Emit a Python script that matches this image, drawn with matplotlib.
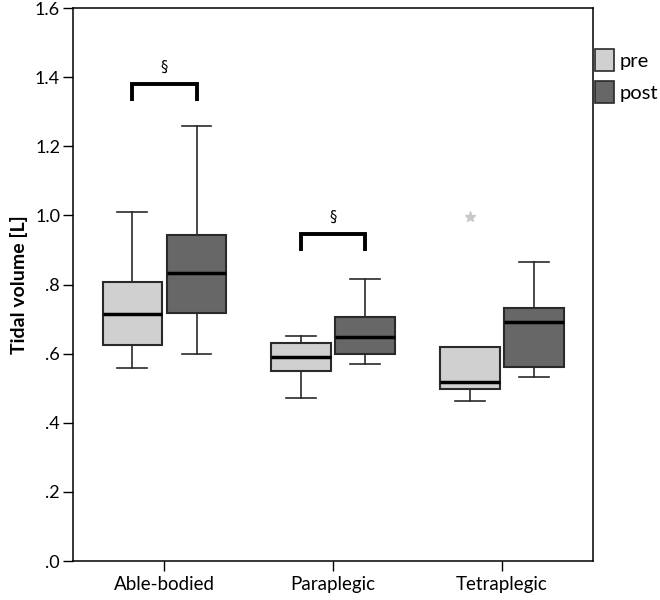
import matplotlib
matplotlib.use("Agg")
from matplotlib import pyplot as plt
from matplotlib.patches import Patch

plt.rcParams['font.family'] = ['Lato', 'DejaVu Sans']

groups = ['Able-bodied', 'Paraplegic', 'Tetraplegic']
series = ['pre', 'post']

# (whislo, q1, median, q3, whishi) per group
pre_stats = [
    (0.558, 0.624, 0.714, 0.806, 1.010),
    (0.472, 0.550, 0.589, 0.630, 0.650),
    (0.463, 0.499, 0.518, 0.619, 0.619),
]
post_stats = [
    (0.599, 0.719, 0.832, 0.944, 1.260),
    (0.570, 0.599, 0.647, 0.705, 0.817),
    (0.532, 0.560, 0.691, 0.731, 0.866),
]
pre_outliers = [[], [], [0.996]]
post_outliers = [[], [], []]

# significance brackets: group index, bracket top, leg bottom
sig_groups = [0, 1]
sig_top = [1.381, 0.947]
sig_leg = [1.332, 0.898]

colors = {'pre': '#d0d0d0', 'post': '#676767'}
offset = 0.19
width = 0.355

fig = plt.figure(figsize=(6.6, 6.0), dpi=100)
ax = fig.add_axes([0.110, 0.065, 0.788, 0.9215])


def make_stats(stats, outliers):
    out = []
    for s, o in zip(stats, outliers):
        out.append(dict(whislo=s[0], q1=s[1], med=s[2], q3=s[3], whishi=s[4], fliers=o))
    return out


for name, stats, outl, sign in [('pre', pre_stats, pre_outliers, -1),
                                 ('post', post_stats, post_outliers, 1)]:
    pos = [i + sign * offset for i in range(len(groups))]
    ax.bxp(make_stats(stats, outl), positions=pos, widths=width,
           patch_artist=True, showfliers=True,
           boxprops=dict(facecolor=colors[name], edgecolor='#2a2a2a', linewidth=1.5),
           medianprops=dict(color='black', linewidth=2.5),
           whiskerprops=dict(color='#2a2a2a', linewidth=1.2),
           capprops=dict(color='#2a2a2a', linewidth=1.2),
           capwidths=width * 0.5,
           flierprops=dict(marker='*', markersize=8, markerfacecolor='#c8c8c8',
                           markeredgecolor='#c8c8c8'))

for g, top, leg in zip(sig_groups, sig_top, sig_leg):
    x0, x1 = g - offset, g + offset
    ax.plot([x0, x0, x1, x1], [leg, top, top, leg], color='black', linewidth=2.8,
            solid_capstyle='butt', solid_joinstyle='miter')
    ax.text(g, top + 0.025, '§', ha='center', va='bottom', fontsize=10.5,
            family=['DejaVu Sans'])

ax.set_xlim(-0.545, 2.54)
ax.set_ylim(0, 1.6)
ax.set_xticks(range(len(groups)))
ax.set_xticklabels(groups, fontsize=13.5)
yt = [0, 0.2, 0.4, 0.6, 0.8, 1.0, 1.2, 1.4, 1.6]
ax.set_yticks(yt)
ax.set_yticklabels(['.0', '.2', '.4', '.6', '.8', '1.0', '1.2', '1.4', '1.6'], fontsize=13)
ax.tick_params(axis='both', direction='out', length=7, width=1, color='black', pad=2)
ax.tick_params(axis='x', pad=4)
ax.set_ylabel('Tidal volume [L]', fontsize=14, fontweight='bold', labelpad=5)
for sp in ax.spines.values():
    sp.set_linewidth(1.1)

handles = [Patch(facecolor=colors[s], edgecolor='#2a2a2a', linewidth=1.2, label=s) for s in series]
fig.legend(handles=handles, loc='upper left', bbox_to_anchor=(0.902, 0.918),
           frameon=False, fontsize=14.5, handlelength=0.95, handleheight=1.3,
           handletextpad=0.25, labelspacing=0.5, borderaxespad=0, borderpad=0)

fig.savefig('out.png', dpi=100)
